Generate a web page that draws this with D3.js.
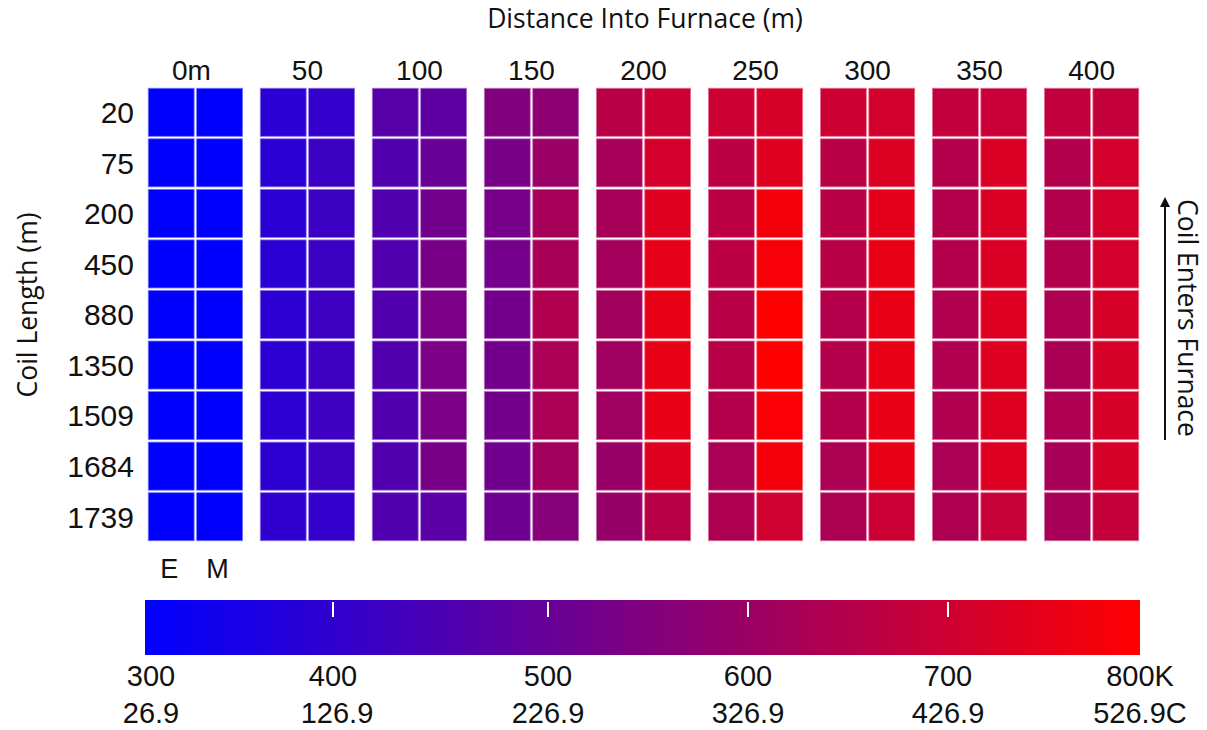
<!DOCTYPE html>
<html>
<head>
<meta charset="utf-8">
<script src="https://cdn.jsdelivr.net/npm/d3@7/dist/d3.min.js"></script>
<style>
  html, body { margin: 0; padding: 0; background: #ffffff; }
  svg { display: block; }
</style>
</head>
<body>
<svg id="chart" width="1207" height="730"></svg>
<script>
// Distance into the furnace (column headers) and coil length (row labels)
const distances = ["0m", "50", "100", "150", "200", "250", "300", "350", "400"];
const coilLengths = ["20", "75", "200", "450", "880", "1350", "1509", "1684", "1739"];
const positions = ["E", "M"];

// Temperature (K) at the coil edge, one array per distance, rows top to bottom
const edgeTemps = [
  [300, 300, 300, 300, 300, 300, 300, 300, 300],
  [382, 382, 382, 384, 386, 386, 386, 388, 394],
  [473, 457, 457, 457, 457, 457, 457, 457, 457],
  [555, 535, 531, 527, 524, 524, 524, 522, 516],
  [661, 626, 626, 622, 618, 614, 614, 598, 594],
  [700, 669, 669, 669, 661, 661, 653, 633, 641],
  [700, 665, 665, 661, 653, 653, 653, 637, 637],
  [680, 653, 653, 653, 645, 645, 645, 633, 641],
  [680, 649, 649, 649, 641, 632, 641, 629, 629]
];

// Temperature (K) at the coil middle, one array per distance, rows top to bottom
const middleTemps = [
  [300, 300, 300, 300, 300, 300, 300, 300, 300],
  [402, 418, 418, 418, 420, 422, 422, 420, 402],
  [484, 504, 524, 535, 539, 539, 539, 535, 476],
  [575, 602, 626, 629, 645, 633, 633, 618, 563],
  [700, 716, 739, 751, 755, 755, 755, 739, 661],
  [720, 739, 778, 786, 800, 800, 790, 780, 708],
  [712, 731, 747, 755, 759, 759, 759, 755, 696],
  [692, 728, 728, 728, 736, 736, 736, 736, 688],
  [684, 716, 716, 716, 720, 720, 720, 720, 684]
];

// Colour bar ticks
const tickValues = [300, 400, 500, 600, 700, 800];
const tickKelvin = ["300", "400", "500", "600", "700", "800K"];
const tickCelsius = ["26.9", "126.9", "226.9", "326.9", "426.9", "526.9C"];

const svg = d3.select("#chart");
const numFont = "'Liberation Sans', Arial, sans-serif";
const textFont = "'Open Sans', 'Noto Sans', sans-serif";

const color = d3.scaleLinear()
  .domain([300, 800])
  .range(["#0000ff", "#ff0000"])
  .interpolate(d3.interpolateRgb)
  .clamp(true);

// Layout scales
const x = d3.scaleBand().domain(distances).range([147, 1140]).paddingInner(0.136).paddingOuter(0);
const xSub = d3.scaleBand().domain(positions).range([0, x.bandwidth()]);
const y = d3.scaleBand().domain(coilLengths).range([87, 542]);

// Flatten the cells
const cells = [];
distances.forEach((dist, i) => {
  coilLengths.forEach((len, j) => {
    cells.push({ dist, len, pos: "E", temp: edgeTemps[i][j] });
    cells.push({ dist, len, pos: "M", temp: middleTemps[i][j] });
  });
});

const gap = 1.25;
svg.append("g").attr("class", "cells")
  .selectAll("rect")
  .data(cells)
  .join("rect")
  .attr("x", d => x(d.dist) + xSub(d.pos) + gap)
  .attr("y", d => y(d.len) + gap)
  .attr("width", xSub.bandwidth() - 2 * gap)
  .attr("height", y.bandwidth() - 2 * gap)
  .attr("fill", d => color(d.temp))
  .attr("stroke", d => d3.interpolateRgb(color(d.temp), "#ffffff")(0.45))
  .attr("stroke-width", 0.8);

// Column headers
svg.append("g").selectAll("text")
  .data(distances)
  .join("text")
  .attr("x", d => x(d) + x.bandwidth() / 2 - (d === "0m" ? 4 : 0))
  .attr("y", 80)
  .attr("text-anchor", "middle")
  .attr("font-family", numFont)
  .attr("font-size", 28)
  .attr("fill", "#111")
  .text(d => d);

// Row labels
svg.append("g").selectAll("text")
  .data(coilLengths)
  .join("text")
  .attr("x", 134)
  .attr("y", d => y(d) + y.bandwidth() / 2)
  .attr("dy", "0.36em")
  .attr("text-anchor", "end")
  .attr("font-family", numFont)
  .attr("font-size", 30)
  .attr("fill", "#111")
  .text(d => d);

// E / M labels below first column
svg.append("g").selectAll("text")
  .data(positions)
  .join("text")
  .attr("x", d => x(distances[0]) + xSub(d) + xSub.bandwidth() / 2 - 2)
  .attr("y", 578)
  .attr("text-anchor", "middle")
  .attr("font-family", numFont)
  .attr("font-size", 27)
  .attr("fill", "#111")
  .text(d => d);

// Axis titles
svg.append("text")
  .attr("x", 645).attr("y", 28)
  .attr("text-anchor", "middle")
  .attr("font-family", textFont)
  .attr("font-size", 26.5)
  .attr("fill", "#111")
  .text("Distance Into Furnace (m)");

svg.append("text")
  .attr("transform", "translate(28,305) rotate(-90)")
  .attr("text-anchor", "middle")
  .attr("dy", "0.35em")
  .attr("font-family", textFont)
  .attr("font-size", 26.5)
  .attr("fill", "#111")
  .text("Coil Length (m)");

// Direction arrow at right
const defs = svg.append("defs");
defs.append("marker")
  .attr("id", "arrowhead")
  .attr("viewBox", "0 0 10 10")
  .attr("refX", 5).attr("refY", 10)
  .attr("markerWidth", 10).attr("markerHeight", 12)
  .attr("markerUnits", "userSpaceOnUse")
  .attr("orient", "0")
  .append("path")
  .attr("d", "M0,10 L5,0 L10,10 Z")
  .attr("fill", "#111");

svg.append("line")
  .attr("x1", 1165).attr("x2", 1165)
  .attr("y1", 440).attr("y2", 207)
  .attr("stroke", "#111")
  .attr("stroke-width", 2)
  .attr("marker-end", "url(#arrowhead)");

svg.append("text")
  .attr("transform", "translate(1187,318) rotate(90)")
  .attr("text-anchor", "middle")
  .attr("dy", "0.35em")
  .attr("font-family", textFont)
  .attr("font-size", 26.5)
  .attr("fill", "#111")
  .text("Coil Enters Furnace");

// Colour bar
const barX0 = 145, barX1 = 1140, barY = 600, barH = 55;
const grad = defs.append("linearGradient")
  .attr("id", "tempGradient")
  .attr("x1", "0%").attr("x2", "100%")
  .attr("y1", "0%").attr("y2", "0%");
grad.selectAll("stop")
  .data(tickValues)
  .join("stop")
  .attr("offset", d => (d - 300) / 500)
  .attr("stop-color", d => color(d));

svg.append("rect")
  .attr("x", barX0).attr("y", barY)
  .attr("width", barX1 - barX0).attr("height", barH)
  .attr("fill", "url(#tempGradient)");

// Tick placement along the bar
const tickX = d3.scaleLinear()
  .domain(tickValues)
  .range([151, 333, 548, 748, 948, 1140]);

svg.append("g").selectAll("line")
  .data(tickValues.slice(1, -1))
  .join("line")
  .attr("x1", d => tickX(d)).attr("x2", d => tickX(d))
  .attr("y1", barY + 2).attr("y2", barY + 17)
  .attr("stroke", "#ffffff")
  .attr("stroke-width", 2);

svg.append("g").selectAll("text")
  .data(tickValues)
  .join("text")
  .attr("x", d => tickX(d))
  .attr("y", 686)
  .attr("text-anchor", "middle")
  .attr("font-family", numFont)
  .attr("font-size", 29)
  .attr("fill", "#111")
  .text((d, i) => tickKelvin[i]);

svg.append("g").selectAll("text")
  .data(tickValues)
  .join("text")
  .attr("x", (d, i) => tickX(d) + (i === 1 ? 4 : 0))
  .attr("y", 723)
  .attr("text-anchor", "middle")
  .attr("font-family", numFont)
  .attr("font-size", 29)
  .attr("fill", "#111")
  .text((d, i) => tickCelsius[i]);
</script>
</body>
</html>
